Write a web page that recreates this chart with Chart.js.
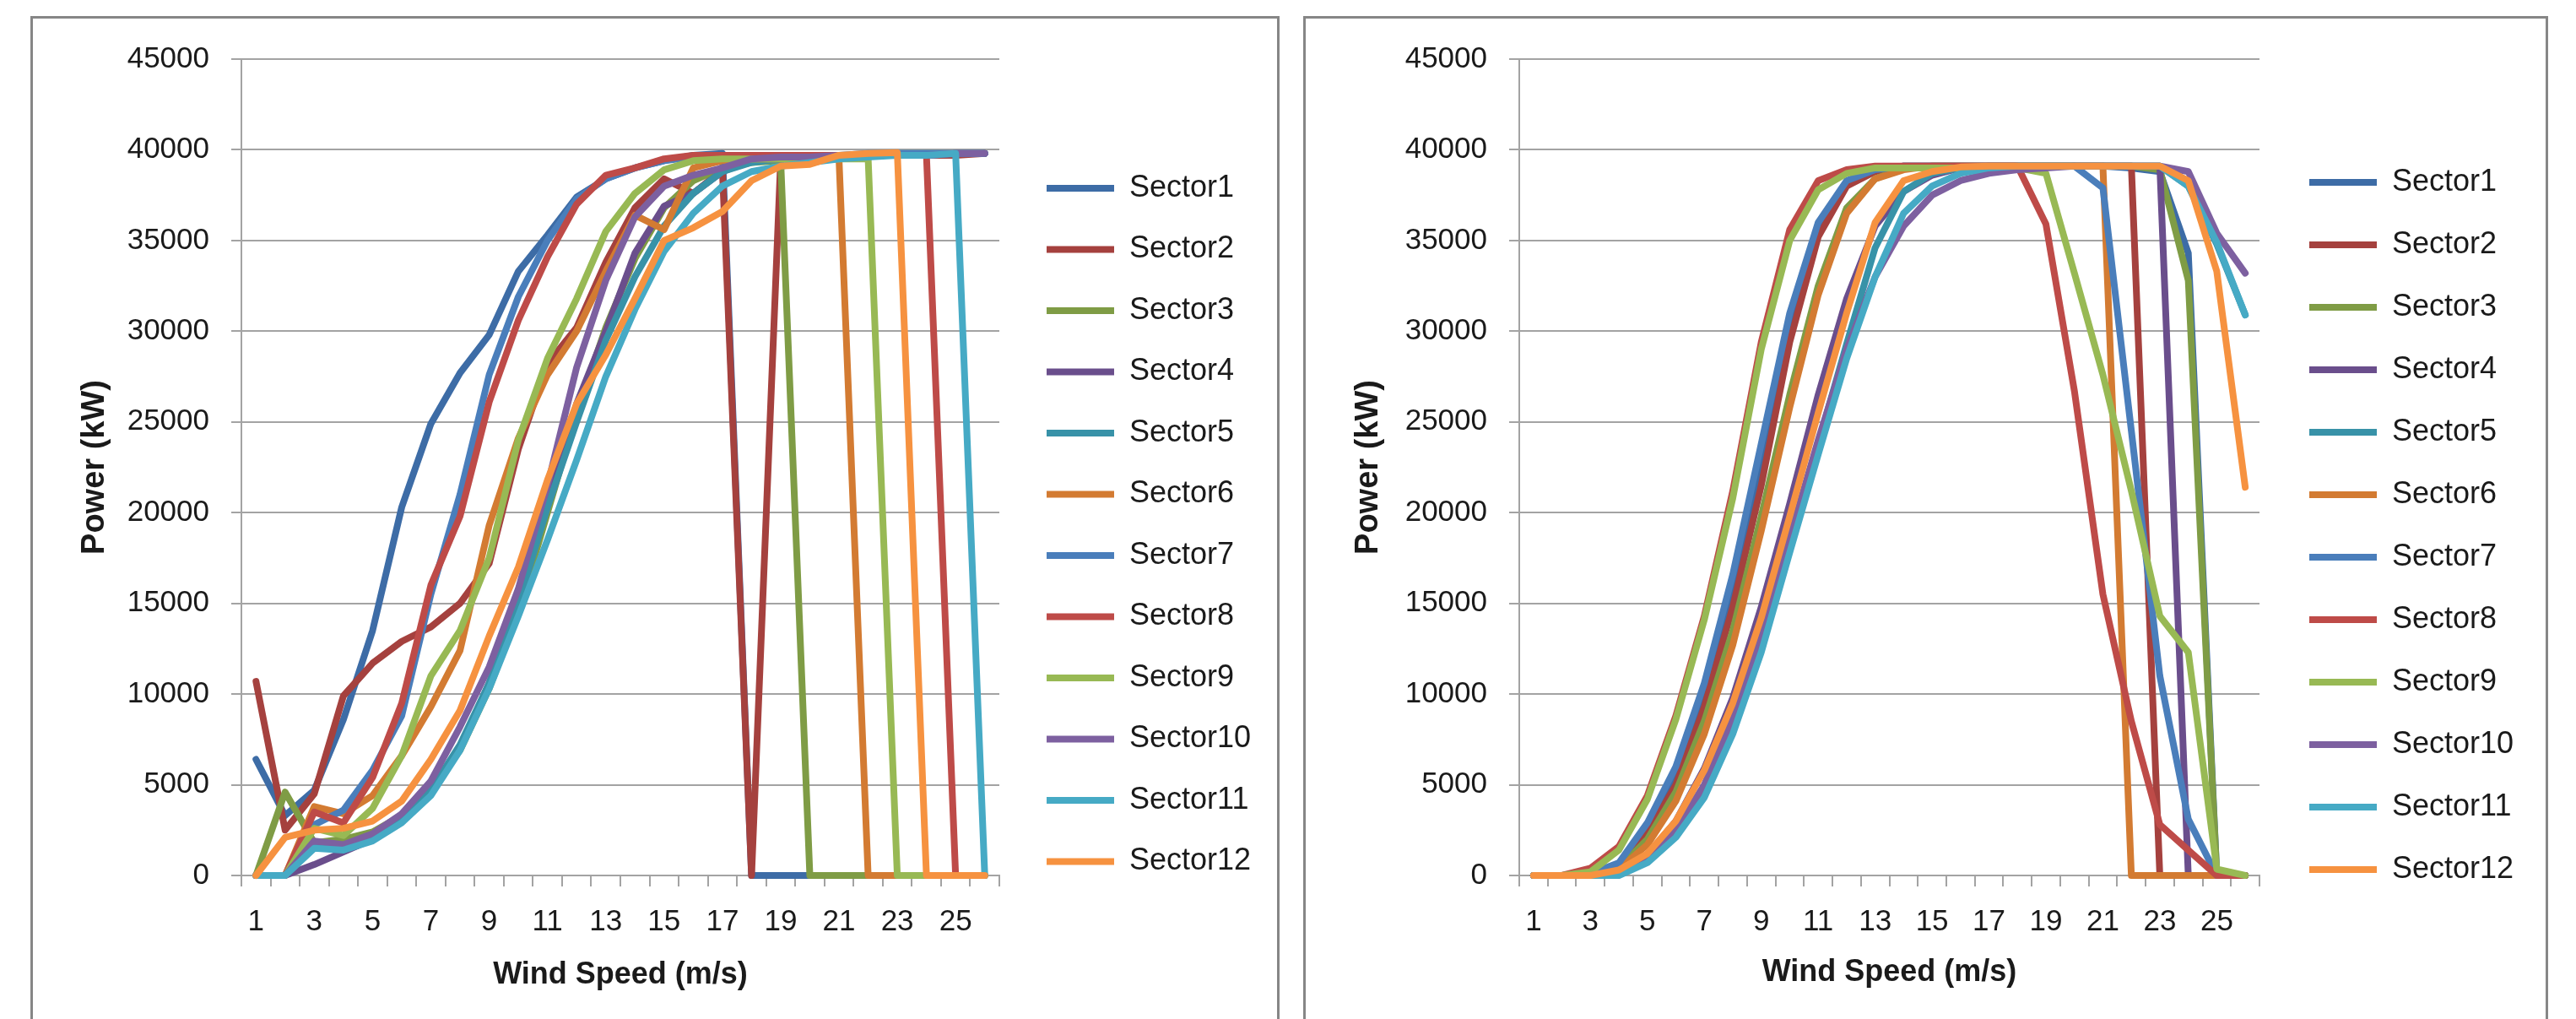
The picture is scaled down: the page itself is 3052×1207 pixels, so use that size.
<!DOCTYPE html>
<html>
<head>
<meta charset="utf-8">
<script src="https://cdn.jsdelivr.net/npm/chart.js@4.4.0/dist/chart.umd.min.js"></script>
<style>
  html, body { margin: 0; padding: 0; background: #fff; width: 3052px; height: 1207px; overflow: hidden; }
  .panel { position: absolute; border: 3px solid #868686; box-sizing: border-box; background: #fff; }
  canvas { position: absolute; }
</style>
</head>
<body>
<div class="panel" style="left:36px; top:19px; width:1480px; height:1250px;"></div>
<div class="panel" style="left:1544px; top:19px; width:1475px; height:1250px;"></div>
<canvas id="left-chart" width="1470" height="1184" style="left:40px; top:23px;"></canvas>
<canvas id="right-chart" width="1466" height="1184" style="left:1548px; top:23px;"></canvas>
<script>
var windSpeed = [1, 2, 3, 4, 5, 6, 7, 8, 9, 10, 11, 12, 13, 14, 15, 16, 17, 18, 19, 20, 21, 22, 23, 24, 25, 26];
var xTickLabels = ['1', '3', '5', '7', '9', '11', '13', '15', '17', '19', '21', '23', '25'];
var sectorNames = ['Sector1', 'Sector2', 'Sector3', 'Sector4', 'Sector5', 'Sector6',
  'Sector7', 'Sector8', 'Sector9', 'Sector10', 'Sector11', 'Sector12'];

// left chart, power per wind speed
var leftSector1 = [6400, 3300, 4700, 8600, 13500, 20300, 24900, 27700, 29800, 33300, 35300, 37400, 38400, 39000, 39400, 39700, 39800, 0, 0, 0, 0, 0, 0, 0, 0, 0];
var leftSector2 = [10700, 2500, 4500, 9900, 11700, 12900, 13700, 15000, 17200, 23500, 28200, 30200, 33800, 36800, 38400, 37600, 38900, 0, 39500, 39600, 39700, 39700, 39700, 39700, 39700, 39800];
var leftSector3 = [0, 4600, 1800, 2000, 2400, 3300, 4700, 6900, 10300, 14500, 20000, 25500, 30200, 34000, 36800, 38300, 39000, 39300, 39400, 0, 0, 0, 0, 0, 0, 0];
var leftSector4 = [0, 0, 600, 1300, 2000, 3000, 4600, 7000, 10600, 15000, 20500, 26000, 30000, 34300, 36900, 37600, 38800, 39400, 39500, 39600, 39600, 39700, 39700, 39700, 39800, 39800];
var leftSector5 = [0, 0, 1700, 1600, 2200, 3100, 4700, 7200, 10600, 15000, 20300, 25000, 29500, 33000, 35800, 37600, 38800, 39300, 39500, 39600, 39700, 39700, 39800, 39800, 39800, 39800];
var leftSector6 = [0, 0, 3800, 3400, 4400, 6600, 9300, 12400, 19300, 24100, 27600, 30000, 33300, 36400, 35600, 39000, 39400, 39500, 39500, 39500, 39500, 0, 0, 0, 0, 0];
var leftSector7 = [0, 0, 2800, 3600, 5800, 8800, 15500, 21000, 27600, 31900, 35000, 37300, 38400, 39000, 39400, 39600, 39700, 39700, 39700, 39700, 39700, 39800, 39800, 39800, 39800, 39800];
var leftSector8 = [0, 0, 3500, 2900, 5400, 9500, 16000, 19800, 26100, 30600, 34100, 37000, 38600, 39000, 39500, 39700, 39700, 39700, 39700, 39700, 39700, 39700, 39700, 39700, 0, 0];
var leftSector9 = [0, 0, 2600, 2200, 3700, 6600, 11000, 13500, 17500, 24000, 28500, 31800, 35500, 37600, 38900, 39400, 39500, 39500, 39500, 39500, 39500, 39500, 0, 0, 0, 0];
var leftSector10 = [0, 0, 1900, 1700, 2300, 3400, 5200, 8200, 11500, 15800, 21500, 28000, 32800, 36300, 38000, 38600, 39000, 39500, 39600, 39600, 39700, 39700, 39700, 39700, 39800, 39800];
var leftSector11 = [0, 0, 1500, 1400, 1900, 2900, 4400, 6900, 10300, 14300, 18500, 22900, 27500, 31200, 34400, 36500, 38000, 38800, 39100, 39300, 39500, 39600, 39700, 39700, 39800, 0];
var leftSector12 = [0, 2100, 2500, 2600, 3000, 4100, 6400, 9100, 13200, 17000, 21800, 26000, 28700, 31800, 35000, 35700, 36600, 38300, 39100, 39200, 39700, 39800, 39850, 0, 0, 0];

// right chart, power per wind speed
var rightSector1 = [0, 0, 50, 600, 2500, 5400, 9800, 15500, 22500, 29800, 35600, 38200, 38900, 39100, 39100, 39100, 39100, 39100, 39100, 39100, 39100, 39000, 38800, 34300, 0, 0];
var rightSector2 = [0, 0, 50, 500, 2300, 5000, 9300, 14800, 21500, 29400, 35200, 38000, 38800, 39100, 39100, 39100, 39100, 39100, 39100, 39100, 39100, 39100, 0, 0, 0, 0];
var rightSector3 = [0, 0, 0, 400, 2000, 4600, 8500, 13500, 19800, 26500, 32500, 36800, 38400, 39000, 39100, 39100, 39100, 39100, 39100, 39100, 39100, 39100, 38900, 32800, 0, 0];
var rightSector4 = [0, 0, 0, 150, 1100, 3000, 5900, 9800, 14800, 20500, 26500, 31800, 35800, 37700, 38600, 39000, 39100, 39100, 39100, 39100, 39100, 39100, 39100, 0, 0, 0];
var rightSector5 = [0, 0, 0, 100, 800, 2200, 4400, 7900, 12500, 18200, 23800, 29300, 34600, 37700, 38700, 39000, 39100, 39100, 39100, 39100, 39100, 39100, 39100, 38000, 34800, 30900];
var rightSector6 = [0, 0, 0, 350, 1700, 4100, 7800, 12700, 19000, 25800, 32000, 36500, 38400, 38900, 39100, 39100, 39100, 39100, 39100, 39100, 39100, 0, 0, 0, 0, 0];
var rightSector7 = [0, 0, 100, 700, 2900, 6000, 10600, 16600, 23800, 31000, 36000, 38300, 38900, 39100, 39100, 39100, 39100, 39100, 39100, 39100, 37900, 24500, 11000, 3100, 0, 0];
var rightSector8 = [0, 0, 400, 1600, 4400, 8800, 14300, 21200, 29400, 35600, 38300, 38900, 39100, 39100, 39100, 39100, 39100, 39100, 35900, 26700, 15500, 8500, 2800, 1400, 0, 0];
var rightSector9 = [0, 0, 200, 1400, 4200, 8600, 14100, 20800, 29000, 35000, 37800, 38700, 39000, 39000, 39000, 39000, 39000, 39000, 38700, 33200, 27600, 21200, 14300, 12300, 350, 0];
var rightSector10 = [0, 0, 0, 100, 900, 2500, 5000, 8700, 13300, 18600, 24000, 29000, 33000, 35800, 37500, 38300, 38700, 38900, 39000, 39100, 39100, 39100, 39100, 38800, 35400, 33200];
var rightSector11 = [0, 0, 0, 0, 700, 2100, 4300, 7800, 12300, 17800, 23200, 28500, 33000, 36500, 38000, 38700, 39000, 39100, 39100, 39100, 39100, 39100, 39100, 38000, 34900, 30900];
var rightSector12 = [0, 0, 0, 300, 1200, 3000, 5800, 9500, 14200, 19800, 25500, 31000, 36000, 38300, 38800, 39050, 39100, 39100, 39100, 39100, 39100, 39100, 39100, 38300, 33300, 21400];

var sectorColors = ['#3d6ca6', '#a5413e', '#7f9c45', '#6a4e8c', '#3892a8', '#d37b32',
  '#4a7ebb', '#be4b48', '#98b954', '#7d60a0', '#46aac5', '#f69240'];
var gridGray = '#a3a3a3';
var textColor = '#1a1a1a';
var fontFamily = "'Liberation Sans', Arial, sans-serif";
var legendFontSize = 36;
var legendLineWidth = 80;

Chart.defaults.font.family = fontFamily;
Chart.defaults.color = textColor;

// width the legend box will take, so the plot edge can be put where it belongs
function legendWidth(canvas, gap) {
  var ctx = canvas.getContext('2d');
  ctx.font = legendFontSize + 'px ' + fontFamily;
  var widest = 0;
  sectorNames.forEach(function (name) {
    widest = Math.max(widest, ctx.measureText(name).width);
  });
  return gap + legendLineWidth + legendFontSize / 2 + widest + 10;
}

function buildChart(id, series, g) {
  var canvas = document.getElementById(id);
  var padRight = canvas.width - g.plotRight - g.gapWidth - legendWidth(canvas, g.legendGap);

  var datasets = series.map(function (values, i) {
    return {
      label: sectorNames[i],
      data: values,
      borderColor: sectorColors[i],
      backgroundColor: sectorColors[i],
      borderWidth: 8,
      pointRadius: 0,
      pointHoverRadius: 0,
      tension: 0,
      fill: false,
      clip: false,
      borderCapStyle: 'round',
      borderJoinStyle: 'round',
      // later sectors are painted on top, like the original
      order: series.length - i
    };
  });

  return new Chart(canvas, {
    type: 'line',
    data: { labels: windSpeed, datasets: datasets },
    options: {
      responsive: false,
      animation: false,
      events: [],
      layout: { padding: { left: 0, top: 42, right: padRight, bottom: g.padBottom } },
      plugins: {
        tooltip: { enabled: false },
        legend: {
          position: 'right',
          maxWidth: 1000,
          labels: {
            usePointStyle: true,
            pointStyle: 'line',
            pointStyleWidth: legendLineWidth,
            padding: g.legendGap,
            font: { size: legendFontSize },
            color: textColor,
            sort: function (a, b) { return a.datasetIndex - b.datasetIndex; }
          }
        }
      },
      scales: {
        x: {
          type: 'category',
          offset: true,
          grid: { offset: true, drawOnChartArea: false, tickLength: 13, color: gridGray, lineWidth: 2 },
          border: { color: gridGray, width: 2 },
          ticks: {
            autoSkip: false,
            maxRotation: 0,
            padding: 21,
            font: { size: 35 },
            color: textColor,
            callback: function (value, index) {
              var s = String(windSpeed[index]);
              return xTickLabels.indexOf(s) >= 0 ? s : '';
            }
          },
          title: {
            display: true,
            text: 'Wind Speed (m/s)',
            font: { size: 36, weight: 'bold' },
            color: textColor,
            padding: { top: 0, bottom: g.xTitlePad }
          },
          afterFit: function (scale) { scale.height = g.xHeight; }
        },
        y: {
          min: 0,
          max: 45000,
          grid: { color: gridGray, lineWidth: 2, tickLength: 12 },
          border: { color: gridGray, width: 2 },
          ticks: {
            stepSize: 5000,
            padding: 26,
            font: { size: 35 },
            color: textColor,
            callback: function (v) { return String(v); }
          },
          title: {
            display: true,
            text: 'Power (kW)',
            font: { size: 38, weight: 'bold' },
            color: textColor,
            padding: { top: g.yTitlePad, bottom: 0 }
          },
          afterFit: function (scale) { scale.width = g.yWidth; }
        },
        // empty spacer between plot and legend
        gap: {
          type: 'linear',
          position: 'right',
          grid: { display: false },
          border: { display: false },
          ticks: { display: false },
          afterFit: function (scale) { scale.width = g.gapWidth; }
        }
      }
    }
  });
}

buildChart('left-chart',
  [leftSector1, leftSector2, leftSector3, leftSector4, leftSector5, leftSector6,
   leftSector7, leftSector8, leftSector9, leftSector10, leftSector11, leftSector12],
  { plotRight: 1144, padBottom: 28.5, xHeight: 141.5, xTitlePad: 2, yWidth: 246, yTitlePad: 50.2, legendGap: 36.5, gapWidth: 19.5 });

buildChart('right-chart',
  [rightSector1, rightSector2, rightSector3, rightSector4, rightSector5, rightSector6,
   rightSector7, rightSector8, rightSector9, rightSector10, rightSector11, rightSector12],
  { plotRight: 1129, padBottom: 26, xHeight: 144, xTitlePad: 7.4, yWidth: 252, yTitlePad: 51.2, legendGap: 38, gapWidth: 21 });
</script>
</body>
</html>
